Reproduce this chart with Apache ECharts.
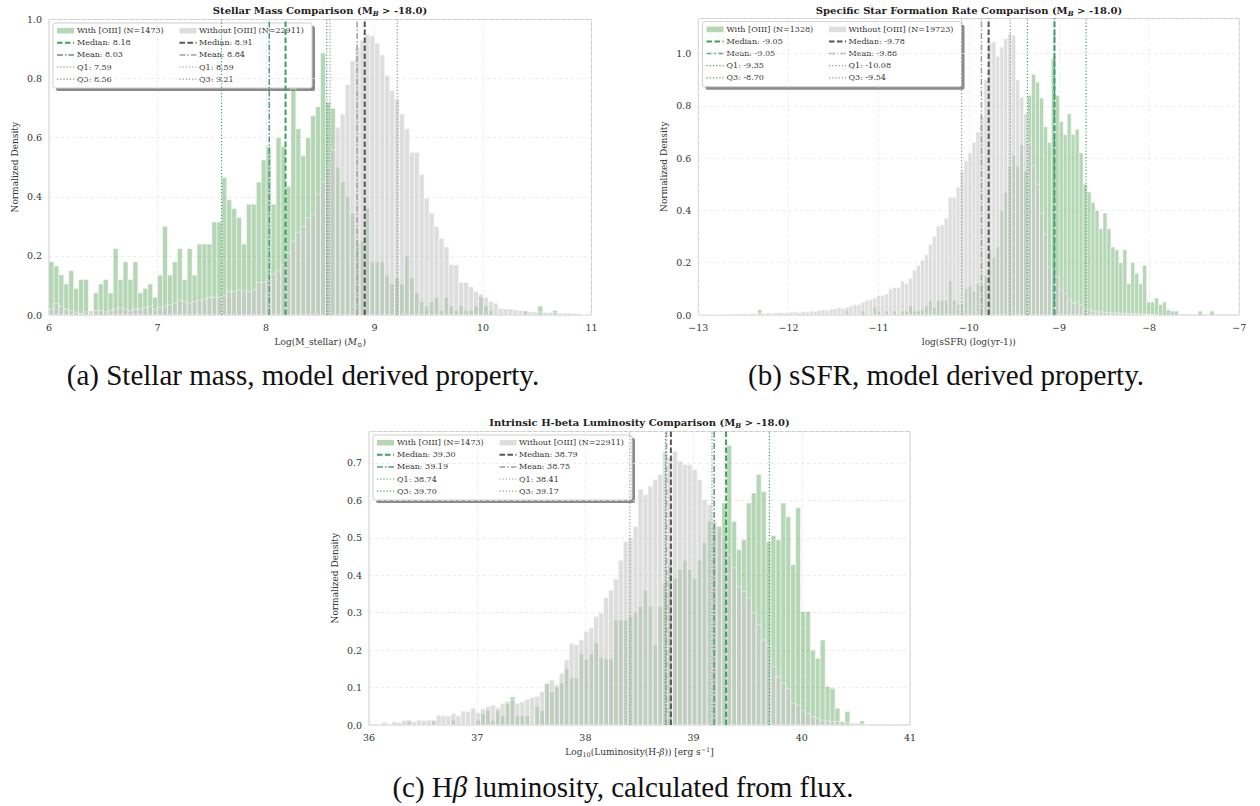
<!DOCTYPE html>
<html><head><meta charset="utf-8">
<script src="https://cdn.jsdelivr.net/npm/echarts@6/dist/echarts.min.js"></script>
<style>html,body{margin:0;padding:0;background:#fff}#c{width:1260px;height:806px}</style>
</head><body><div id="c"></div>
<script>
// ---------------- DATA ----------------
// (a) Stellar mass
const massBinStart = 6.0, massBinWidth = 0.0455;
const massWith = [
0.18,0.166,0.136,0.105,0.15,0.09,0.12,0.12,0,0.075,
0.105,0.12,0.075,0.225,0.12,0.18,0.12,0.18,0.075,0.09,
0.105,0.06,0.135,0.30,0.135,0.18,0.225,0.12,0.225,0.135,
0.24,0.24,0.24,0.315,0.315,0.465,0.39,0.36,0.33,0.24,
0.375,0.375,0.45,0.525,0.57,0.375,0.60,0.57,0.435,0.765,
0.63,0.54,0.60,0.675,0.705,0.887,0.72,0.70,0.50,0.45,
0.40,0.345,0.24,0.25,0.36,0.18,0.18,0.18,0.135,0.105,
0.125,0.105,0.20,0.125,0.075,0.045,0.03,0.045,0.06,0.015,
0.06,0.03,0.015,0.03,0.015,0.015,0.03,0.06,0.03,0.015,
0,0,0,0,0,0,0.015,0,0,0.03,
0,0,0.015];
const massWithout = [
0.02,0.04,0.03,0.02,0.015,0.01,0.005,0.01,0.015,0.015,
0.015,0.01,0.015,0.02,0.025,0.02,0.015,0.02,0.02,0.025,
0.03,0.02,0.025,0.03,0.035,0.04,0.05,0.045,0.04,0.045,
0.05,0.055,0.06,0.06,0.06,0.065,0.08,0.08,0.085,0.08,
0.08,0.085,0.11,0.11,0.12,0.14,0.15,0.17,0.21,0.25,
0.28,0.30,0.33,0.34,0.41,0.45,0.50,0.56,0.635,0.68,
0.78,0.86,0.905,0.93,0.95,0.945,0.92,0.88,0.81,0.76,
0.73,0.68,0.63,0.55,0.55,0.475,0.395,0.345,0.30,0.26,
0.23,0.17,0.17,0.11,0.11,0.095,0.08,0.07,0.06,0.045,
0.04,0.022,0.02,0.02,0.017,0.015,0.013,0.011,0.011,0.01,
0.009,0.009,0.008,0.006,0.006,0.006,0.005,0.004,0.002];
const massWithStats = [8.18, 8.03, 7.59, 8.56];      // median, mean, Q1, Q3
const massWithoutStats = [8.91, 8.84, 8.59, 9.21];
const massCounts = [1473, 22911];

// (b) sSFR
const ssfrBinStart = -13.0, ssfrBinWidth = 0.044;
const ssfrWith = [
0,0,0,0,0,0,0,0,0,0,
0,0,0,0,0,0.02,0,0,0,0,
0,0,0,0,0,0,0,0,0,0,
0,0,0,0,0,0,0,0.015,0,0,
0,0.015,0,0,0.03,0.015,0,0.015,0,0.015,
0,0.015,0.015,0.035,0.015,0.015,0.02,0.035,0.055,0.03,
0.055,0.055,0.055,0.13,0.055,0.04,0.04,0.10,0.11,0.09,
0.12,0.12,0.15,0.25,0.22,0.26,0.40,0.47,0.57,0.61,
0.57,0.65,0.55,0.84,0.92,0.89,0.83,0.72,0.66,0.98,
0.84,0.74,0.69,0.77,0.69,0.71,0.62,0.50,0.47,0.43,
0.40,0.33,0.39,0.33,0.26,0.25,0.20,0.25,0.12,0.20,
0.16,0.12,0.19,0.05,0.05,0.065,0.04,0.05,0.02,0.015,
0.015,0,0,0,0,0,0.015,0,0,0.015];
const ssfrWithout = [
0.001,0.001,0.001,0.002,0.002,0.002,0.002,0.003,0.003,0.004,
0.004,0.005,0.004,0.006,0.005,0.007,0.006,0.008,0.006,0.008,
0.009,0.008,0.009,0.011,0.012,0.010,0.013,0.012,0.015,0.014,
0.017,0.02,0.018,0.022,0.024,0.028,0.026,0.03,0.035,0.04,
0.04,0.048,0.055,0.058,0.065,0.075,0.075,0.08,0.10,0.105,
0.105,0.13,0.12,0.14,0.17,0.19,0.21,0.23,0.27,0.30,
0.34,0.345,0.37,0.45,0.45,0.49,0.55,0.59,0.62,0.66,
0.70,0.76,0.90,1.04,1.045,0.99,1.025,1.057,1.076,1.07,
0.90,0.834,0.77,0.66,0.57,0.50,0.39,0.31,0.18,0.17,
0.146,0.096,0.083,0.057,0.045,0.05,0.038,0.025,0.02,0.015,
0.012,0.012,0.01,0.01,0.008,0.008,0.007,0.006,0.005,0.005,
0.004,0.003,0.003,0.002,0.002,0.001];
const ssfrWithStats = [-9.05, -9.05, -9.35, -8.70];
const ssfrWithoutStats = [-9.78, -9.86, -10.08, -9.54];
const ssfrCounts = [1328, 19723];

// (c) H-beta luminosity
const lumBinStart = 36.03, lumBinWidth = 0.0455;
const lumWith = [
0,0,0,0,0,0,0,0.01,0,0,
0,0,0.01,0,0,0,0.013,0,0,0,
0,0.012,0.03,0.038,0.012,0.038,0.025,0.062,0.075,0.025,
0.025,0.025,0,0.05,0.038,0.112,0.088,0.10,0.112,0.15,
0.125,0.125,0.19,0.175,0.19,0.22,0.18,0.176,0.176,0.28,
0.28,0.28,0.29,0.30,0.317,0.36,0.317,0.214,0.317,0.379,
0.428,0.392,0.415,0.44,0.415,0.392,0.44,0.486,0.544,0.53,
0.53,0.593,0.747,0.544,0.468,0.495,0.593,0.62,0.669,0.624,
0.49,0.506,0.495,0.593,0.556,0.428,0.58,0.303,0.303,0.20,
0.178,0.227,0.103,0.098,0.045,0.009,0.036,0,0,0.011];
const lumWithout = [
0.003,0,0.007,0.003,0.009,0.007,0.012,0.013,0.009,0.013,
0.012,0.013,0.013,0.026,0.024,0.024,0.031,0.024,0.037,0.036,
0.045,0.033,0.043,0.049,0.053,0.046,0.058,0.058,0.067,0.058,
0.062,0.069,0.074,0.076,0.089,0.11,0.12,0.107,0.138,0.174,
0.218,0.214,0.227,0.25,0.26,0.29,0.30,0.34,0.36,0.39,
0.44,0.49,0.50,0.53,0.63,0.615,0.638,0.656,0.669,0.731,
0.714,0.731,0.705,0.696,0.696,0.682,0.656,0.602,0.589,0.544,
0.53,0.504,0.455,0.42,0.37,0.357,0.339,0.30,0.268,0.227,
0.214,0.156,0.129,0.111,0.098,0.058,0.053,0.04,0.031,0.022,
0.018,0.013,0.011,0.009,0.009,0.009,0.007,0.005,0.005,0.003,0.002];
const lumWithStats = [39.30, 39.19, 38.74, 39.70];
const lumWithoutStats = [38.79, 38.75, 38.41, 39.17];
const lumCounts = [1473, 22911];

const statNames = ['Median', 'Mean', 'Q1', 'Q3'];

// ---------------- STYLE / LAYOUT ----------------
const SERIF = 'DejaVu Serif';
const GREEN_BAR = 'rgba(60,150,60,0.38)';
const GRAY_BAR = 'rgba(200,200,200,0.6)';
const GREEN_PATCH = '#b5d7b1';
const GRAY_PATCH = '#dedede';
const greenLines = [
  {color:'#3aa35f', width:2, type:[5.5,2.5]},
  {color:'#4a9e7c', width:1.5, type:[6,2,1.5,2]},
  {color:'#3a9f68', width:1.2, type:[1.2,2]},
  {color:'#3a9f68', width:1.2, type:[1.2,2]}
];
const grayLines = [
  {color:'#555555', width:2, type:[5.5,2.5]},
  {color:'#a0a0a0', width:1.5, type:[6,2,1.5,2]},
  {color:'#959595', width:1.2, type:[1.2,2]},
  {color:'#959595', width:1.2, type:[1.2,2]}
];

const panels = [
  {grid:{left:49, top:19.5, width:542.5, height:295.5}, xMin:6, xMax:11, yMax:1.0, yInt:0.2,
   start:massBinStart, width:massBinWidth, withV:massWith, withoutV:massWithout,
   sW:massWithStats, sWo:massWithoutStats, counts:massCounts,
   title:'Stellar Mass Comparison (M{s|B} > -18.0)', titlePos:[320,10],
   xName:'Log(M_stellar) ({i|M}{s|⊙})', legendPos:[53,23], showMax:true},
  {grid:{left:698.3, top:18.5, width:541, height:296.5}, xMin:-13, xMax:-7, yMax:1.134, yInt:0.2,
   start:ssfrBinStart, width:ssfrBinWidth, withV:ssfrWith, withoutV:ssfrWithout,
   sW:ssfrWithStats, sWo:ssfrWithoutStats, counts:ssfrCounts,
   title:'Specific Star Formation Rate Comparison (M{s|B} > -18.0)', titlePos:[969,10],
   xName:'log(sSFR) (log(yr-1))', legendPos:[702.5,21.7], showMax:false},
  {grid:{left:369, top:431.5, width:541, height:293.5}, xMin:36, xMax:41, yMax:0.784, yInt:0.1,
   start:lumBinStart, width:lumBinWidth, withV:lumWith, withoutV:lumWithout,
   sW:lumWithStats, sWo:lumWithoutStats, counts:lumCounts,
   title:'Intrinsic H-beta Luminosity Comparison (M{s|B} > -18.0)', titlePos:[639.5,422.5],
   xName:'Log{s|10}(Luminosity(H-{i|β})) [erg s{u|−1}]', legendPos:[373,435], showMax:false}
];

// ---------------- BUILD ----------------
function barSeries(idx, start, width, vals, color, z) {
  return {
    type:'custom', xAxisIndex:idx, yAxisIndex:idx, clip:true, silent:true, animation:false, z:z,
    data: vals.map((h,i) => [start + i*width, start + (i+1)*width, h]),
    encode:{x:[0,1], y:2},
    renderItem:(params, api) => {
      const h = api.value(2);
      if (!(h > 0)) return null;
      const p0 = api.coord([api.value(0), h]);
      const p1 = api.coord([api.value(1), 0]);
      return {type:'rect', shape:{x:p0[0], y:p0[1], width:p1[0]-p0[0], height:p1[1]-p0[1]},
              style:{fill:color, stroke:'#ffffff', lineWidth:0.5}};
    }
  };
}
function vline(idx, x, yMax, st) {
  return {type:'line', xAxisIndex:idx, yAxisIndex:idx, data:[[x,0],[x,yMax]], symbol:'none',
          silent:true, animation:false, z:4, lineStyle:{color:st.color, width:st.width, type:st.type}};
}
const richName = {
  i:{fontFamily:SERIF, fontSize:9, fontStyle:'italic', color:'#333'},
  s:{fontFamily:SERIF, fontSize:6.5, color:'#333', verticalAlign:'bottom', lineHeight:9},
  u:{fontFamily:SERIF, fontSize:6.5, color:'#333', verticalAlign:'top', lineHeight:9}
};
const fmtTick = v => { const s = Math.abs(v) < 1e-9 ? '0' : String(Math.round(v*1000)/1000); return s.replace('-', '\u2212'); };

const grids = [], xAxes = [], yAxes = [], series = [], graphics = [];
panels.forEach((p, k) => {
  grids.push(Object.assign({show:true, borderColor:'#cccccc', borderWidth:1, backgroundColor:'#ffffff', containLabel:false}, p.grid));
  xAxes.push({type:'value', gridIndex:k, min:p.xMin, max:p.xMax, interval:1,
    axisLine:{show:false}, axisTick:{show:false},
    axisLabel:{fontFamily:SERIF, fontSize:9.5, color:'#333', margin:7, formatter:fmtTick},
    splitLine:{show:true, lineStyle:{color:'#e6e6e6', width:0.8, type:[3,3]}},
    name:p.xName, nameLocation:'middle', nameGap:21,
    nameTextStyle:{fontFamily:SERIF, fontSize:9, color:'#333', lineHeight:12, rich:richName}});
  yAxes.push({type:'value', gridIndex:k, min:0, max:p.yMax, interval:p.yInt,
    axisLine:{show:false}, axisTick:{show:false},
    axisLabel:{fontFamily:SERIF, fontSize:9.5, color:'#333', margin:7, showMaxLabel:p.showMax,
               formatter:v => v.toFixed(1)},
    splitLine:{show:true, lineStyle:{color:'#e6e6e6', width:0.8, type:[3,3]}},
    name:'Normalized Density', nameLocation:'middle', nameGap:30,
    nameTextStyle:{fontFamily:SERIF, fontSize:9, color:'#333'}});
  series.push(barSeries(k, p.start, p.width, p.withV, GREEN_BAR, 2));
  series.push(barSeries(k, p.start, p.width, p.withoutV, GRAY_BAR, 3));
  p.sW.forEach((v,j) => series.push(vline(k, v, p.yMax, greenLines[j])));
  p.sWo.forEach((v,j) => series.push(vline(k, v, p.yMax, grayLines[j])));

  // title
  graphics.push({type:'text', x:p.titlePos[0], y:p.titlePos[1], z:50,
    style:{text:p.title, fontFamily:SERIF, fontSize:10, fontWeight:'bold', fill:'#222',
           align:'center', verticalAlign:'middle', lineHeight:13,
           rich:{s:{fontFamily:SERIF, fontSize:7, fontWeight:'bold', fontStyle:'italic', fill:'#222', verticalAlign:'bottom', lineHeight:8}}}});

  // legend
  const LW = 259, LH = 65, rowY0 = 7.7, rowH = 12.1;
  const cols = [{icon:4, text:24, patch:GREEN_PATCH, lines:greenLines, stats:p.sW, label:'With [OIII] (N=' + p.counts[0] + ')'},
                {icon:126.5, text:146, patch:GRAY_PATCH, lines:grayLines, stats:p.sWo, label:'Without [OIII] (N=' + p.counts[1] + ')'}];
  const ch = [];
  ch.push({type:'rect', shape:{x:3, y:3, width:LW, height:LH, r:2}, style:{fill:'#8a8a8a'}});
  ch.push({type:'rect', shape:{x:0, y:0, width:LW, height:LH, r:2}, style:{fill:'#ffffff', stroke:'#cfcfcf', lineWidth:1}});
  cols.forEach(c => {
    ch.push({type:'rect', shape:{x:c.icon, y:rowY0-2.8, width:17, height:5.6}, style:{fill:c.patch}});
    ch.push({type:'text', x:c.text, y:rowY0, style:{text:c.label, fontFamily:SERIF, fontSize:8, fill:'#333', verticalAlign:'middle'}});
    c.stats.forEach((v,j) => {
      const yy = rowY0 + rowH*(j+1);
      const st = c.lines[j];
      ch.push({type:'line', shape:{x1:c.icon, y1:yy, x2:c.icon+17, y2:yy},
               style:{stroke:st.color, lineWidth:st.width, lineDash:st.type}});
      ch.push({type:'text', x:c.text, y:yy, style:{text:statNames[j] + ': ' + v.toFixed(2), fontFamily:SERIF, fontSize:8, fill:'#333', verticalAlign:'middle'}});
    });
  });
  graphics.push({type:'group', x:p.legendPos[0], y:p.legendPos[1], z:60, children:ch});
});

// captions
const captions = [
  {text:'(a) Stellar mass, model derived property.', x:303, y:375},
  {text:'(b) sSFR, model derived property.', x:946, y:375},
  {text:'(c) H{i|β} luminosity, calculated from flux.', x:623, y:787}
];
captions.forEach(c => graphics.push({type:'text', x:c.x, y:c.y, z:50,
  style:{text:c.text, fontFamily:'Liberation Serif', fontSize:29, fill:'#111', align:'center', verticalAlign:'middle',
         rich:{i:{fontFamily:'Liberation Serif', fontSize:29, fontStyle:'italic', fill:'#111'}}}}));

const chart = echarts.init(document.getElementById('c'), null, {renderer:'svg', width:1260, height:806});
chart.setOption({
  backgroundColor:'#ffffff', animation:false,
  grid:grids, xAxis:xAxes, yAxis:yAxes, series:series, graphic:graphics
});
</script></body></html>
